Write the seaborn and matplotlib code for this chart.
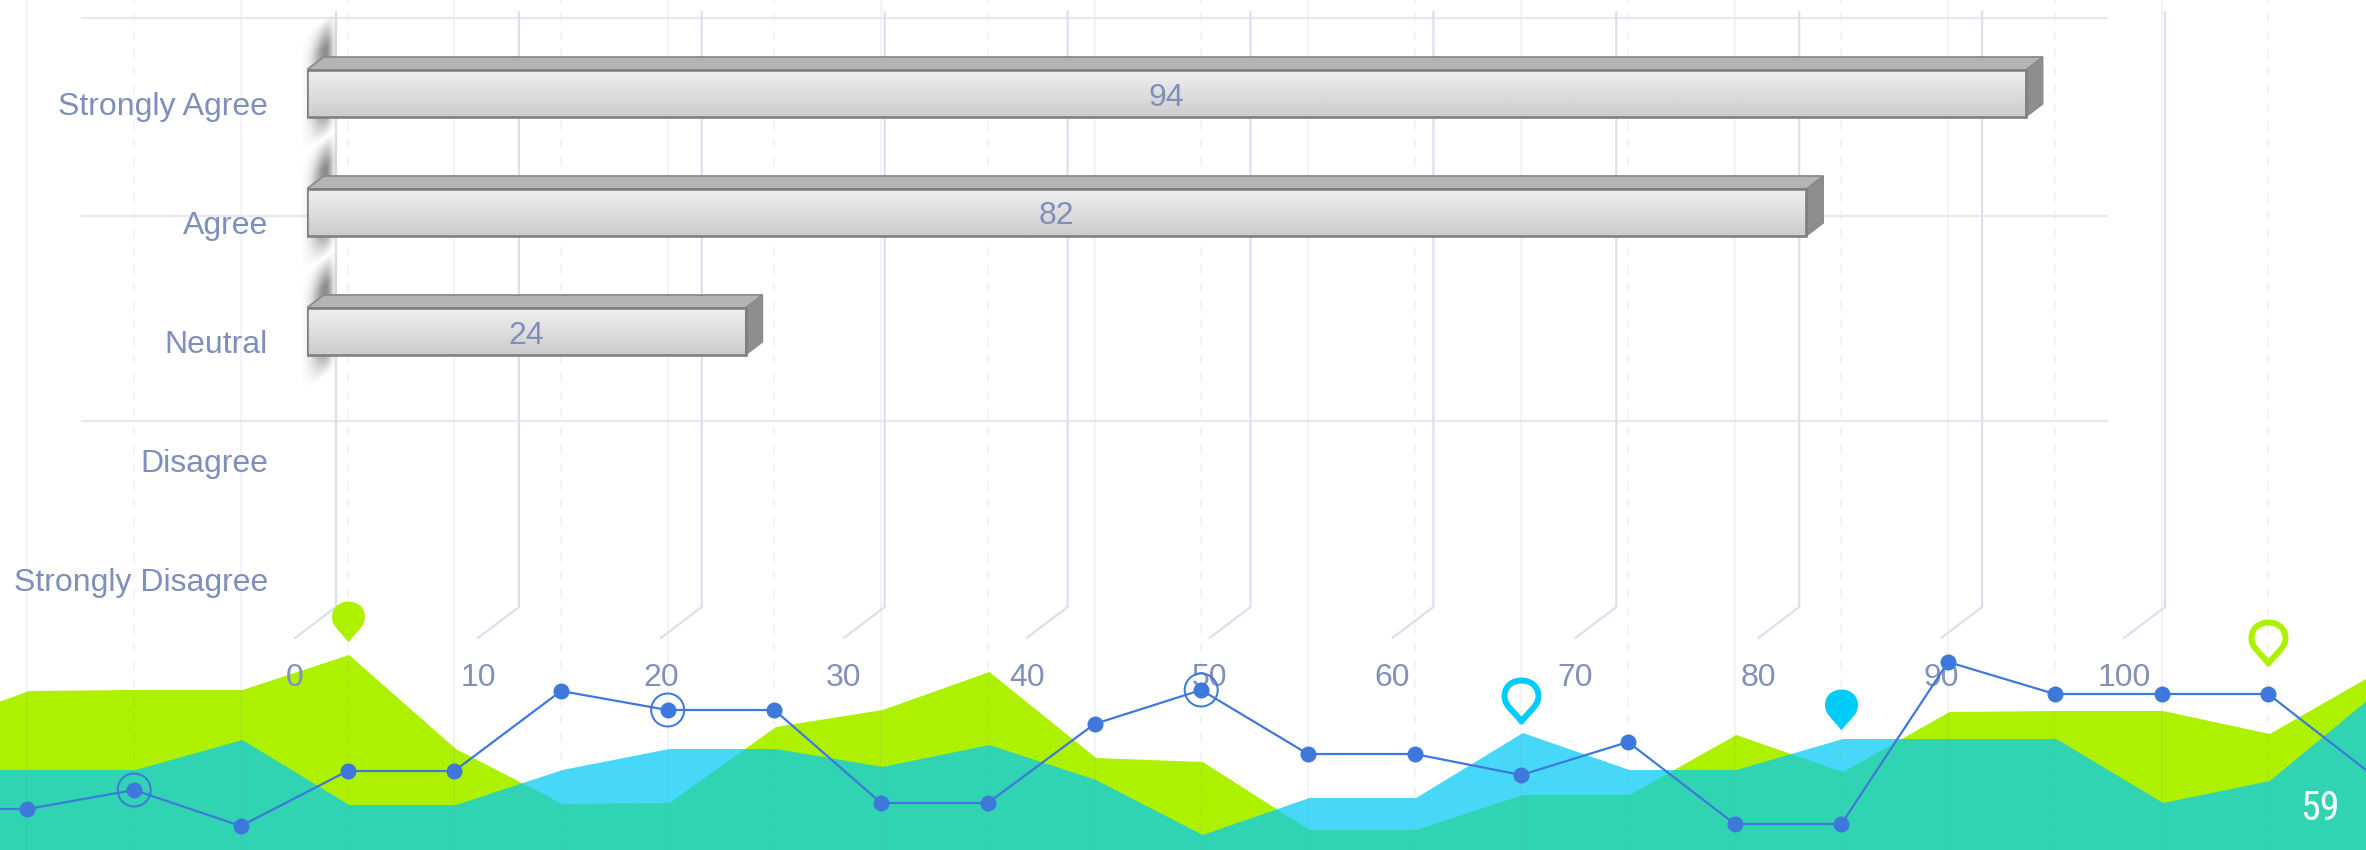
import numpy as np
import matplotlib
matplotlib.use("Agg")
import matplotlib.pyplot as plt
from matplotlib import font_manager as fm
import seaborn as sns
import pandas as pd
from matplotlib.path import Path
from matplotlib.patches import Polygon
from matplotlib.transforms import ScaledTranslation

# ---------- data ----------
categories = ["Strongly Agree", "Agree", "Neutral", "Disagree", "Strongly Disagree"]
values = [94, 82, 24, 0, 0]
x_ticks = [0, 10, 20, 30, 40, 50, 60, 70, 80, 90, 100]

# background decorative series, one value for index -1..22
bg_index = list(range(-1, 23))
green_area = [120, 159, 160, 160, 195, 101, 46, 47, 123, 140, 178, 92, 88, 20, 20, 55, 55, 115, 78, 138, 139, 139, 116, 177]
blue_area = [80, 80, 80, 110, 45, 45, 80, 101, 101, 83, 105, 70, 15, 52, 52, 117, 80, 80, 111, 111, 111, 47, 69, 157]
line_series = [41, 41, 60, 24, 79, 79, 159, 140, 140, 47, 47, 126, 160, 96, 96, 75, 108, 26, 26, 188, 156, 156, 156, 73]
ringed_points = [1, 6, 11]
rule_heights = [832, 634, 429]
pins = [(3, 208, "#AEF100", True), (14, 129, "#00CBF9", False), (17, 120, "#00CBF9", True), (21, 187, "#AEF100", False)]
page_number = "59"

# ---------- style ----------
GREEN, BLUE, LINE = "#AEF100", "#00CAF8", "#3E78DB"
TEXT = "#7F8FBC"
WALL = "#DAE0EE"
W, H, DPI = 2366, 850, 100
sns.set_theme(style="white")
plt.rcParams["font.family"] = ["Liberation Sans", "DejaVu Sans"]
px = 72 / DPI

fig = plt.figure(figsize=(W / DPI, H / DPI), dpi=DPI, facecolor="white")
full = [0, 0, 1, 1]
ax_area = fig.add_axes(full, zorder=0)
ax_line = fig.add_axes(full, zorder=2, facecolor="none")
for a in (ax_area, ax_line):
    a.set_xlim(-27.5 / 106.7, (W - 27.5) / 106.7)
    a.set_ylim(0, H)
    a.axis("off")

# ---------- background ----------
shift = 0.015
ix = np.array(bg_index) + shift
ax_area.fill_between(ix, 0, green_area, color=GREEN, lw=0, zorder=1)
ax_area.fill_between(ix, 0, blue_area, color=BLUE, alpha=0.72, lw=0, zorder=2)
for i in range(0, 22):
    dashed = i % 2 == 1
    ax_area.axvline(i, color="#8090B0", alpha=0.09, lw=2 * px,
                    ls=(0, (4.5, 4.5)) if dashed else "-", zorder=3)
ax_area.hlines(rule_heights, 0.5, 19.5, color="#E8E8EE", lw=2.2 * px, zorder=3)

# ---------- line ----------
df = pd.DataFrame({"i": bg_index, "v": line_series})
sns.lineplot(data=df, x="i", y="v", ax=ax_line, color=LINE, lw=2.2 * px, marker="o",
             markersize=16 * px, markeredgewidth=0, legend=False, zorder=3)
ax_line.axis("off")
ax_line.set_xlim(-27.5 / 106.7, (W - 27.5) / 106.7)
ax_line.set_ylim(0, H)
ring_v = [line_series[bg_index.index(i)] for i in ringed_points]
ax_line.scatter(ringed_points, ring_v, s=(33 * px) ** 2, facecolors="none",
                edgecolors=LINE, linewidths=2 * px, zorder=4)


def pin_path(w, h):
    verts = [(0, 0),
             (-.25 * w, .28 * h), (-.5 * w, .38 * h), (-.5 * w, .62 * h),
             (-.5 * w, .85 * h), (-.28 * w, h), (0, h),
             (.28 * w, h), (.5 * w, .85 * h), (.5 * w, .62 * h),
             (.5 * w, .38 * h), (.25 * w, .28 * h), (0, 0), (0, 0)]
    codes = [Path.MOVETO] + [Path.CURVE4] * 12 + [Path.CLOSEPOLY]
    return Path(verts, codes)


for i, tip, col, filled in pins:
    if filled:
        ax_line.plot([i], [tip], marker=pin_path(33, 41), ms=2 * 41 * px,
                     mfc=col, mec="none", mew=0, ls="", zorder=5)
    else:
        ax_line.plot([i], [tip], marker=pin_path(34, 41), ms=2 * 41 * px,
                     mfc="none", mec=col, mew=6 * px, ls="", zorder=5)

# a condensed face for the page number, when one is installed
narrow = [f for f in fm.fontManager.ttflist
          if any(k in (f.name + " " + f.fname).lower() for k in ("narrow", "condensed"))
          and f.style == "normal" and str(f.weight) in ("400", "normal", "regular")]
narrow.sort(key=lambda f: (0 if "Liberation" in f.name else 1 if "Roboto" in f.name else 2, f.fname))
page_kw = {"fontproperties": fm.FontProperties(fname=narrow[0].fname, size=40 * px)} if narrow else {"fontsize": 40 * px}
fig.text(2319.6 / W, 1 - 809 / H, page_number, color="white", ha="center", va="center", zorder=10, **page_kw)

# ---------- bar chart ----------
L, T, B = 306.6, 12, 638
unit = 18.29
step = 119
Y0 = 93.5
R = 2340
ax = fig.add_axes([L / W, 1 - B / H, (R - L) / W, (B - T) / H], zorder=1, facecolor="none")
bar_df = pd.DataFrame({"cat": categories, "val": values})
sns.barplot(data=bar_df, y="cat", x="val", ax=ax, orient="h", width=47 / step, color="#E0E0E0",
            saturation=1, edgecolor="#7F7F7F", linewidth=2.6 * px, zorder=3)
xlim = (0, (R - L) / unit)
ylim = ((B - Y0) / step, (T - Y0) / step)

dx_d, dy_d = 17 / unit, 13 / step

# walls
for t in x_ticks:
    ax.plot([t - 11.6 / unit, t + 29.4 / unit, t + 29.4 / unit],
            [(B - Y0) / step, (607 - Y0) / step, (T - Y0) / step],
            color=WALL, lw=2.2 * px, zorder=0.5, clip_on=False)

grad = np.linspace(0.94, 0.80, 64)[:, None]
for n, p in enumerate(ax.patches):
    v = p.get_width()
    if v <= 0:
        p.set_visible(False)
        continue
    y1, y2 = p.get_y(), p.get_y() + p.get_height()
    # blurred shadow behind the bar
    xs = np.linspace(-5 / unit, 30 / unit, 70)
    ys = np.linspace(n - 0.74, n + 0.54, 220)
    gx, gy = np.meshgrid(xs, ys)
    c = 19 / unit
    u = np.where(gx < c, (gx - c) / (13 / unit), (gx - c) / (7 / unit))
    skew = gy + (gx - 14 / unit) * unit * 0.77 / step
    a = np.exp(-u ** 2) * np.clip((skew - (n - 0.60)) / 0.24, 0, 1) * np.clip(((n + 0.40) - skew) / 0.24, 0, 1)
    rgba = np.zeros(gx.shape + (4,))
    rgba[..., :3] = 0.40
    rgba[..., 3] = a * 0.75
    ax.imshow(rgba, extent=(xs[0], xs[-1], ys[-1], ys[0]), aspect="auto", zorder=1, interpolation="bilinear", clip_on=False)
    # gradient front face
    ax.imshow(grad, extent=(0, v, y2, y1), aspect="auto", cmap="gray", vmin=0, vmax=1, zorder=2, clip_on=True)
    p.set_facecolor("none")
    p.set_zorder(3)
    ax.add_patch(Polygon([(0, y1), (v, y1), (v + dx_d, y1 - dy_d), (dx_d, y1 - dy_d)], closed=True,
                         facecolor="#B4B4B4", edgecolor="#8A8A8A", lw=1.8 * px, zorder=2.8))
    ax.add_patch(Polygon([(v, y1), (v + dx_d, y1 - dy_d), (v + dx_d, y2 - dy_d), (v, y2)], closed=True,
                         facecolor="#8E8E8E", edgecolor="#8A8A8A", lw=1.2 * px, zorder=2.8))

anns = ax.bar_label(ax.containers[0], labels=[str(v) if v else "" for v in values], label_type="center",
                    color=TEXT, fontsize=32 * px, zorder=6)
for t in anns:
    t.xyann = (0, -4 * px)

ax.set_xlim(xlim)
ax.set_ylim(ylim)
ax.set_xlabel("")
ax.set_ylabel("")
sns.despine(ax=ax, left=True, bottom=True)
ax.set_xticks(x_ticks)
ax.set_xticklabels([str(t) for t in x_ticks])
ax.tick_params(axis="x", length=0, pad=25 * px, labelsize=32 * px, labelcolor="#8390B8")
ax.tick_params(axis="y", length=0, pad=38.6 * px, labelsize=32 * px, labelcolor=TEXT)
for lb in ax.get_xticklabels():
    lb.set_transform(lb.get_transform() + ScaledTranslation(-11.6 / DPI, 0, fig.dpi_scale_trans))
for lb in ax.get_yticklabels():
    lb.set_transform(lb.get_transform() + ScaledTranslation(0, -10 / DPI, fig.dpi_scale_trans))

fig.savefig("out.png", dpi=DPI, facecolor="white")
